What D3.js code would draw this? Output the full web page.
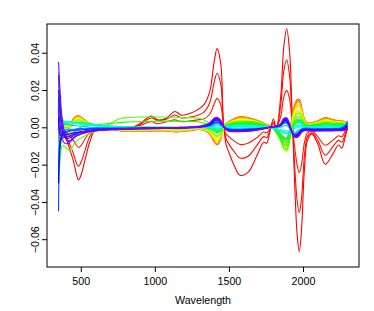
<!DOCTYPE html>
<html>
<head>
<meta charset="utf-8">
<script src="https://cdn.jsdelivr.net/npm/d3@7"></script>
<style>
  body { margin: 0; background: #fff; }
  text { font-family: "Liberation Sans", Arial, sans-serif; font-size: 10.7px; fill: #000; }
</style>
</head>
<body>
<div id="chart"></div>
<script>
// wavelength grid (nm) shared by every spectrum
var wavelength = [
  350, 360, 375, 390, 410, 430, 450, 470, 485, 500,
  530, 560, 600, 650, 700, 760, 800, 850, 900, 975,
  1020, 1080, 1135, 1180, 1240, 1290, 1330, 1370, 1400, 1420,
  1445, 1462, 1480, 1500, 1530, 1575, 1630, 1690, 1735, 1755,
  1775, 1800, 1820, 1850, 1870, 1890, 1910, 1925, 1940, 1960,
  1975, 1990, 2010, 2030, 2060, 2100, 2150, 2200, 2240, 2262,
  2285, 2300
];

// sample number of each drawn spectrum (out of 100, sets the rainbow colour)
var sampleNo = [1, 2, 3, 9, 12, 14, 19, 21, 24, 29, 31, 34, 38, 43, 48, 51, 54,
                60, 63, 66, 72, 78, 81, 84, 89, 91, 94, 97, 99, 100];

var s01 = [
  0, -0.001, -0.002, -0.004, -0.008, -0.013, -0.018, -0.025, -0.0283, -0.026,
  -0.017, -0.008, -0.001, -0.0005, -0.0005, -0.001, -0.002, 0, 0.002, 0.006,
  0.004, 0.005, 0.0085, 0.0065, 0.0075, 0.0095, 0.012, 0.019, 0.035, 0.0422,
  0.034, 0.004, -0.009, -0.0135, -0.0195, -0.0257, -0.024, -0.015, -0.008, -0.0085,
  -0.003, 0.0045, -0.0005, 0.017, 0.043, 0.0528, 0.040, 0.011, -0.022, -0.057,
  -0.0667, -0.055, -0.022, -0.007, -0.0035, -0.009, -0.0198, -0.0145, -0.0095, -0.0112,
  -0.005, -0.001
];
var s02 = [
  0, -0.001, -0.002, -0.003, -0.006, -0.010, -0.014, -0.019, -0.021, -0.019,
  -0.012, -0.005, -0.001, 0, 0, -0.0005, -0.0015, 0, 0.0015, 0.005,
  0.0035, 0.0045, 0.0065, 0.005, 0.0055, 0.0065, 0.008, 0.013, 0.024, 0.029,
  0.023, 0.003, -0.006, -0.009, -0.0125, -0.0165, -0.0155, -0.0095, -0.005, -0.0055,
  -0.002, 0.003, -0.0005, 0.012, 0.030, 0.0362, 0.027, 0.007, -0.015, -0.039,
  -0.0458, -0.038, -0.015, -0.005, -0.003, -0.007, -0.015, -0.0105, -0.007, -0.008,
  -0.0035, -0.0005
];
var s03 = [
  0, -0.001, -0.001, -0.002, -0.003, -0.005, -0.007, -0.0095, -0.0108, -0.010,
  -0.006, -0.003, -0.0005, 0, 0, -0.0005, -0.001, 0, 0.001, 0.003,
  0.002, 0.003, 0.004, 0.003, 0.0035, 0.004, 0.0045, 0.007, 0.0125, 0.0155,
  0.012, 0.0015, -0.0035, -0.005, -0.007, -0.0092, -0.0085, -0.0055, -0.0025, -0.003,
  -0.001, 0.002, 0, 0.006, 0.016, 0.0198, 0.015, 0.004, -0.008, -0.020,
  -0.0244, -0.020, -0.008, -0.003, -0.002, -0.005, -0.0096, -0.007, -0.0045, -0.005,
  -0.002, 0
];
var s09 = [
  0.004, 0.008, 0.004, 0.001, 0, 0.002, 0.0045, 0.006, 0.0063, 0.0055,
  0.0038, 0.0022, 0.001, 0, -0.001, -0.0018, -0.0022, -0.0022, -0.0022, -0.002,
  -0.002, -0.002, -0.0025, -0.0022, -0.0018, -0.0012, -0.0015, -0.0035, -0.0078, -0.0095,
  -0.0065, -0.0005, 0.002, 0.003, 0.0045, 0.0058, 0.0052, 0.0038, 0.0022, 0.0015,
  0.0008, 0, -0.0008, -0.0035, -0.0055, -0.0055, -0.001, 0.005, 0.011, 0.0148,
  0.015, 0.011, 0.0045, 0.0025, 0.0025, 0.0035, 0.0052, 0.0042, 0.0036, 0.0034,
  0.003, 0.002
];
var s12 = [
  0.002, 0.006, 0.0035, 0.001, 0, 0.0018, 0.0042, 0.0058, 0.0062, 0.0054,
  0.0036, 0.0021, 0.001, 0, -0.0009, -0.0017, -0.0021, -0.0021, -0.0021, -0.0019,
  -0.0019, -0.0019, -0.0024, -0.0021, -0.0017, -0.0011, -0.0014, -0.0033, -0.0075, -0.0092,
  -0.0063, -0.0005, 0.0019, 0.0029, 0.0043, 0.0056, 0.005, 0.0037, 0.0021, 0.0015,
  0.0008, 0, -0.0009, -0.0038, -0.006, -0.0062, -0.0015, 0.0045, 0.0102, 0.014,
  0.0142, 0.0105, 0.0042, 0.0022, 0.0024, 0.0033, 0.005, 0.004, 0.0035, 0.0033,
  0.0029, 0.0019
];
var s14 = [
  -0.008, 0.004, 0.003, 0.001, 0, 0.0015, 0.004, 0.0055, 0.006, 0.0052,
  0.0035, 0.002, 0.001, 0, -0.0008, -0.0015, -0.002, -0.002, -0.002, -0.0018,
  -0.0018, -0.0018, -0.0022, -0.002, -0.0015, -0.001, -0.0013, -0.003, -0.007, -0.0088,
  -0.006, -0.0005, 0.0018, 0.0028, 0.004, 0.0052, 0.0048, 0.0035, 0.002, 0.0014,
  0.0007, 0, -0.001, -0.004, -0.0065, -0.0068, -0.002, 0.004, 0.0095, 0.0132,
  0.0135, 0.010, 0.004, 0.002, 0.0022, 0.003, 0.0047, 0.0038, 0.0033, 0.0032,
  0.0028, 0.0018
];
var s19 = [
  -0.018, -0.004, 0.002, 0.001, 0.0005, 0.0015, 0.0035, 0.005, 0.0055, 0.0048,
  0.0033, 0.002, 0.001, 0, -0.0008, -0.0015, -0.0018, -0.0018, -0.0018, -0.0016,
  -0.0016, -0.0016, -0.002, -0.0018, -0.0013, -0.0008, -0.0012, -0.0028, -0.006, -0.0075,
  -0.0052, -0.0005, 0.0016, 0.0025, 0.0036, 0.0046, 0.0043, 0.0032, 0.0018, 0.0012,
  0.0005, -0.0002, -0.0015, -0.005, -0.008, -0.0085, -0.003, 0.003, 0.0085, 0.0118,
  0.012, 0.009, 0.0035, 0.0018, 0.002, 0.0028, 0.0042, 0.0034, 0.003, 0.003,
  0.0026, 0.0016
];
var s21 = [
  0.006, 0.003, 0.0015, 0.001, 0.0008, 0.0015, 0.0032, 0.0048, 0.0052, 0.0046,
  0.0032, 0.002, 0.001, 0.0001, -0.0006, -0.0013, -0.0016, -0.0016, -0.0016, -0.0014,
  -0.0014, -0.0014, -0.0018, -0.0016, -0.0011, -0.0007, -0.0011, -0.0026, -0.0056, -0.007,
  -0.0048, -0.0005, 0.0015, 0.0023, 0.0034, 0.0043, 0.004, 0.003, 0.0017, 0.0011,
  0.0004, -0.0003, -0.0018, -0.0055, -0.0088, -0.0094, -0.0038, 0.0026, 0.008, 0.0112,
  0.0113, 0.0085, 0.0032, 0.0016, 0.0019, 0.0026, 0.0039, 0.0032, 0.0028, 0.0028,
  0.0025, 0.0015
];
var s24 = [
  -0.026, -0.012, 0, 0.001, 0.001, 0.0015, 0.003, 0.0045, 0.005, 0.0045,
  0.0032, 0.002, 0.001, 0.0002, -0.0005, -0.0012, -0.0015, -0.0015, -0.0015, -0.0013,
  -0.0013, -0.0013, -0.0017, -0.0015, -0.001, -0.0006, -0.001, -0.0025, -0.0052, -0.0065,
  -0.0045, -0.0005, 0.0015, 0.0022, 0.0032, 0.004, 0.0038, 0.0028, 0.0016, 0.001,
  0.0004, -0.0004, -0.002, -0.006, -0.0095, -0.0102, -0.0045, 0.0022, 0.0075, 0.0105,
  0.0105, 0.008, 0.003, 0.0015, 0.0018, 0.0025, 0.0037, 0.003, 0.0027, 0.0027,
  0.0024, 0.0014
];
var s29 = [
  0.012, 0.006, 0.002, 0.0005, 0.0005, 0.0012, 0.0028, 0.004, 0.0045, 0.004,
  0.003, 0.002, 0.0012, 0.0005, 0, -0.0008, -0.001, -0.001, -0.001, -0.0008,
  -0.0008, -0.0008, -0.0012, -0.001, -0.0006, -0.0003, -0.0008, -0.002, -0.0045, -0.0055,
  -0.004, -0.0003, 0.0015, 0.002, 0.003, 0.0036, 0.0034, 0.0026, 0.0015, 0.001,
  0.0003, -0.0006, -0.0025, -0.007, -0.011, -0.012, -0.006, 0.0012, 0.006, 0.0088,
  0.009, 0.007, 0.0028, 0.0014, 0.0016, 0.0022, 0.0033, 0.0028, 0.0025, 0.0025,
  0.0022, 0.0012
];
var s31 = [
  -0.022, -0.010, -0.001, 0, 0.0002, 0.001, 0.0024, 0.0036, 0.004, 0.0037,
  0.0028, 0.002, 0.0012, 0.0006, 0.0001, -0.0005, -0.0008, -0.0008, -0.0008, -0.0006,
  -0.0006, -0.0006, -0.001, -0.0008, -0.0005, -0.0002, -0.0007, -0.0018, -0.004, -0.005,
  -0.0035, -0.0002, 0.0015, 0.0019, 0.0028, 0.0033, 0.0032, 0.0024, 0.0014, 0.0009,
  0.0002, -0.0007, -0.0028, -0.0072, -0.0112, -0.0124, -0.0065, 0.0006, 0.0052, 0.0078,
  0.008, 0.0064, 0.0026, 0.0013, 0.0015, 0.0021, 0.003, 0.0026, 0.0024, 0.0024,
  0.0021, 0.0011
];
var s34 = [
  0.030, 0.015, 0.004, 0, -0.001, 0, 0.0018, 0.003, 0.0035, 0.0033,
  0.0027, 0.002, 0.0013, 0.0007, 0.0002, -0.0003, -0.0005, -0.0005, -0.0005, -0.0004,
  -0.0004, -0.0004, -0.0007, -0.0006, -0.0003, 0, -0.0005, -0.0015, -0.0035, -0.0045,
  -0.003, 0, 0.0015, 0.0018, 0.0026, 0.003, 0.003, 0.0023, 0.0014, 0.0009,
  0.0002, -0.0008, -0.003, -0.0075, -0.0115, -0.0128, -0.007, 0, 0.0045, 0.007,
  0.0072, 0.0058, 0.0025, 0.0013, 0.0015, 0.002, 0.0028, 0.0025, 0.0023, 0.0023,
  0.002, 0.001
];
var s38 = [
  -0.030, -0.018, -0.010, -0.010, -0.0118, -0.0122, -0.0095, -0.0075, -0.0065, -0.0058,
  -0.0045, -0.0035, -0.002, 0, 0.0022, 0.0045, 0.0052, 0.0054, 0.0055, 0.0055,
  0.0055, 0.0055, 0.0054, 0.0053, 0.0052, 0.005, 0.004, 0.002, 0, -0.001,
  -0.001, 0, 0.0012, 0.0018, 0.0025, 0.003, 0.0032, 0.0026, 0.0016, 0.001,
  0.0003, -0.0008, -0.0028, -0.007, -0.0105, -0.0115, -0.0065, -0.0005, 0.0035, 0.0055,
  0.0058, 0.0048, 0.0022, 0.0012, 0.0014, 0.0018, 0.0025, 0.0022, 0.002, 0.002,
  0.0018, 0.0008
];
var s43 = [
  0.020, 0.010, 0.003, -0.002, -0.004, -0.0045, -0.003, -0.0015, -0.0005, 0,
  0.0008, 0.0012, 0.0015, 0.0018, 0.002, 0.0025, 0.0028, 0.003, 0.003, 0.0032,
  0.0033, 0.0033, 0.0033, 0.0033, 0.0032, 0.003, 0.0022, 0.0008, -0.001, -0.002,
  -0.0015, 0, 0.001, 0.0015, 0.002, 0.0024, 0.0025, 0.0021, 0.0013, 0.0008,
  0.0002, -0.0008, -0.0025, -0.006, -0.009, -0.0098, -0.0058, -0.001, 0.0025, 0.0042,
  0.0045, 0.0038, 0.0018, 0.001, 0.0012, 0.0015, 0.002, 0.0018, 0.0017, 0.0017,
  0.0015, 0.0006
];
var s48 = [
  -0.012, -0.004, 0.001, 0.002, 0.0022, 0.0025, 0.0025, 0.0025, 0.0025, 0.0024,
  0.0022, 0.0019, 0.0015, 0.001, 0.0006, 0.0003, 0.0002, 0.0001, 0, 0,
  0, 0, -0.0002, -0.0002, 0, 0.0002, 0, -0.0008, -0.002, -0.0028,
  -0.002, 0, 0.001, 0.0013, 0.0018, 0.0021, 0.0021, 0.0017, 0.001, 0.0006,
  0.0001, -0.0007, -0.002, -0.005, -0.0075, -0.008, -0.0045, -0.0008, 0.002, 0.0035,
  0.0037, 0.003, 0.0015, 0.0008, 0.001, 0.0013, 0.0017, 0.0015, 0.0014, 0.0014,
  0.0013, 0.0005
];
var s51 = [
  0.008, 0.004, 0.003, 0.0025, 0.0025, 0.0026, 0.0026, 0.0025, 0.0025, 0.0024,
  0.0021, 0.0018, 0.0014, 0.001, 0.0006, 0.0003, 0.0002, 0.0001, 0, 0,
  0, 0, -0.0001, -0.0001, 0, 0.0001, 0, -0.0006, -0.0016, -0.0022,
  -0.0016, 0, 0.0008, 0.0012, 0.0015, 0.0018, 0.0018, 0.0014, 0.0009, 0.0005,
  0.0001, -0.0006, -0.0017, -0.0042, -0.0063, -0.0068, -0.004, -0.0008, 0.0016, 0.0029,
  0.0031, 0.0025, 0.0012, 0.0007, 0.0008, 0.0011, 0.0014, 0.0013, 0.0012, 0.0012,
  0.0011, 0.0005
];
var s54 = [
  0.024, 0.012, 0.005, 0.003, 0.0028, 0.0028, 0.0027, 0.0026, 0.0025, 0.0024,
  0.0021, 0.0018, 0.0014, 0.001, 0.0007, 0.0004, 0.0003, 0.0002, 0.0001, 0,
  0, 0, -0.0001, -0.0001, 0, 0.0001, 0, -0.0005, -0.0012, -0.0018,
  -0.0013, 0, 0.0007, 0.001, 0.0013, 0.0015, 0.0015, 0.0012, 0.0008, 0.0005,
  0.0001, -0.0005, -0.0014, -0.0035, -0.0052, -0.0056, -0.0034, -0.0008, 0.0012, 0.0023,
  0.0025, 0.002, 0.001, 0.0006, 0.0007, 0.0009, 0.0012, 0.0011, 0.001, 0.001,
  0.0009, 0.0004
];
var s60 = [
  -0.020, -0.006, 0.002, 0.003, 0.0032, 0.003, 0.0028, 0.0026, 0.0024, 0.0022,
  0.0019, 0.0016, 0.0012, 0.0008, 0.0005, 0.0002, 0.0001, 0, 0, -0.0001,
  -0.0001, -0.0001, -0.0002, -0.0002, -0.0001, 0, 0, -0.0002, -0.0006, -0.0008,
  -0.0006, 0, 0.0004, 0.0005, 0.0007, 0.0008, 0.0008, 0.0006, 0.0004, 0.0002,
  0, -0.0004, -0.001, -0.0022, -0.0032, -0.0035, -0.0025, -0.0008, 0.0004, 0.001,
  0.0012, 0.001, 0.0005, 0.0003, 0.0003, 0.0004, 0.0005, 0.0005, 0.0005, 0.0005,
  0.0006, 0.001
];
var s63 = [
  0.012, 0.004, 0.002, 0.0028, 0.003, 0.0028, 0.0025, 0.0023, 0.0021, 0.0019,
  0.0016, 0.0013, 0.001, 0.0006, 0.0003, 0.0001, 0, -0.0001, -0.0001, -0.0002,
  -0.0002, -0.0002, -0.0002, -0.0002, -0.0001, 0, 0, -0.0001, -0.0002, -0.0003,
  -0.0002, 0, 0.0002, 0.0003, 0.0004, 0.0004, 0.0004, 0.0003, 0.0002, 0.0001,
  0, -0.0003, -0.0009, -0.0017, -0.0023, -0.0026, -0.0024, -0.0012, -0.0002, 0.0004,
  0.0006, 0.0005, 0.0003, 0.0002, 0.0001, 0.0002, 0.0003, 0.0003, 0.0003, 0.0004,
  0.0007, 0.0018
];
var s66 = [
  0.018, 0.006, 0.002, 0.0025, 0.0028, 0.0025, 0.0022, 0.002, 0.0018, 0.0016,
  0.0013, 0.001, 0.0007, 0.0004, 0.0002, 0, -0.0001, -0.0002, -0.0002, -0.0003,
  -0.0003, -0.0003, -0.0003, -0.0003, -0.0002, -0.0001, 0, 0.0001, 0.0002, 0.0002,
  0.0001, 0, 0, 0, 0.0001, 0.0001, 0.0001, 0, 0, 0,
  -0.0001, -0.0003, -0.0008, -0.0012, -0.0015, -0.0018, -0.0022, -0.0016, -0.0008, -0.0002,
  0, 0, 0, 0, -0.0001, 0, 0, 0, 0, 0.0002,
  0.0008, 0.0025
];
var s72 = [
  -0.015, -0.004, 0.001, 0.0015, 0.0015, 0.0012, 0.001, 0.0008, 0.0007, 0.0006,
  0.0004, 0.0002, 0, -0.0001, -0.0002, -0.0003, -0.0004, -0.0004, -0.0004, -0.0004,
  -0.0004, -0.0004, -0.0004, -0.0004, -0.0003, -0.0002, 0, 0.0004, 0.001, 0.0012,
  0.0008, 0.0002, -0.0002, -0.0004, -0.0005, -0.0005, -0.0005, -0.0004, -0.0002, -0.0001,
  0, 0, -0.0002, 0, 0.0008, 0.001, -0.0008, -0.0025, -0.0028, -0.002,
  -0.0012, -0.0006, -0.0003, -0.0003, -0.0005, -0.0005, -0.0005, -0.0005, -0.0004, 0,
  0.0012, 0.0035
];
var s78 = [
  0.010, -0.010, -0.004, -0.002, -0.001, -0.001, -0.001, -0.0008, -0.0007, -0.0006,
  -0.0005, -0.0004, -0.0004, -0.0004, -0.0004, -0.0004, -0.0004, -0.0004, -0.0004, -0.0003,
  -0.0003, -0.0003, -0.0003, -0.0002, -0.0001, 0, 0.0003, 0.0008, 0.0018, 0.0022,
  0.0015, 0.0004, -0.0004, -0.0008, -0.001, -0.001, -0.0009, -0.0007, -0.0004, -0.0002,
  0, 0.0002, 0.0002, 0.0008, 0.002, 0.0022, 0, -0.0025, -0.0035, -0.003,
  -0.002, -0.001, -0.0006, -0.0006, -0.0008, -0.0008, -0.0008, -0.0008, -0.0007, -0.0002,
  0.001, 0.003
];
var s81 = [
  0.016, -0.002, -0.003, -0.0025, -0.002, -0.0015, -0.0014, -0.0012, -0.0011, -0.001,
  -0.0009, -0.0007, -0.0007, -0.0006, -0.0006, -0.0005, -0.0005, -0.0005, -0.0004, -0.0004,
  -0.0003, -0.0003, -0.0003, -0.0002, -0.0001, 0, 0.0004, 0.001, 0.0022, 0.0026,
  0.0018, 0.0004, -0.0005, -0.001, -0.0012, -0.0012, -0.001, -0.0008, -0.0004, -0.0002,
  0, 0.0002, 0.0003, 0.001, 0.0024, 0.0026, 0.0003, -0.0025, -0.0038, -0.0034,
  -0.0024, -0.0012, -0.0008, -0.0008, -0.001, -0.001, -0.0009, -0.0009, -0.0008, -0.0004,
  0.0008, 0.0026
];
var s84 = [
  -0.045, -0.012, -0.004, -0.003, -0.0025, -0.002, -0.0018, -0.0016, -0.0015, -0.0014,
  -0.0012, -0.001, -0.0009, -0.0008, -0.0007, -0.0006, -0.0006, -0.0005, -0.0005, -0.0004,
  -0.0004, -0.0003, -0.0003, -0.0002, -0.0001, 0.0001, 0.0005, 0.0012, 0.0026, 0.003,
  0.002, 0.0005, -0.0006, -0.0012, -0.0014, -0.0014, -0.0012, -0.0009, -0.0005, -0.0003,
  0, 0.0003, 0.0004, 0.0012, 0.0028, 0.003, 0.0005, -0.0025, -0.004, -0.0037,
  -0.0027, -0.0015, -0.0009, -0.0009, -0.0011, -0.0011, -0.001, -0.001, -0.0009, -0.0005,
  0.0005, 0.002
];
var s89 = [
  -0.030, -0.008, -0.004, -0.004, -0.0038, -0.0033, -0.003, -0.0027, -0.0025, -0.0023,
  -0.002, -0.0017, -0.0014, -0.0012, -0.001, -0.0009, -0.0008, -0.0007, -0.0006, -0.0005,
  -0.0004, -0.0003, -0.0003, -0.0002, 0, 0.0002, 0.0007, 0.0016, 0.0033, 0.0038,
  0.0026, 0.0006, -0.0008, -0.0015, -0.0017, -0.0017, -0.0015, -0.0011, -0.0006, -0.0003,
  0, 0.0004, 0.0005, 0.0015, 0.0034, 0.0036, 0.0008, -0.0025, -0.0045, -0.0043,
  -0.0032, -0.0018, -0.0012, -0.0012, -0.0014, -0.0014, -0.0013, -0.0013, -0.0012, -0.001,
  -0.0002, 0.0012
];
var s91 = [
  0.005, -0.004, -0.005, -0.0055, -0.005, -0.0044, -0.0038, -0.0032, -0.0029, -0.0026,
  -0.0022, -0.0018, -0.0015, -0.0012, -0.001, -0.0009, -0.0008, -0.0007, -0.0006, -0.0005,
  -0.0004, -0.0003, -0.0003, -0.0002, 0, 0.0002, 0.0008, 0.0018, 0.0038, 0.0043,
  0.0029, 0.0006, -0.0009, -0.0016, -0.0018, -0.0018, -0.0016, -0.0012, -0.0006, -0.0003,
  0, 0.0004, 0.0005, 0.0016, 0.0037, 0.0039, 0.0009, -0.0025, -0.0047, -0.0047,
  -0.0035, -0.002, -0.0013, -0.0013, -0.0015, -0.0015, -0.0014, -0.0014, -0.0013, -0.0012,
  -0.0005, 0.0006
];
var s94 = [
  0.020, 0.008, -0.002, -0.005, -0.006, -0.0055, -0.0045, -0.0037, -0.0032, -0.0028,
  -0.0023, -0.0019, -0.0016, -0.0013, -0.0011, -0.0009, -0.0008, -0.0007, -0.0006, -0.0005,
  -0.0004, -0.0003, -0.0003, -0.0002, 0, 0.0002, 0.0008, 0.002, 0.0042, 0.0047,
  0.0032, 0.0007, -0.001, -0.0018, -0.002, -0.002, -0.0018, -0.0013, -0.0007, -0.0004,
  0, 0.0004, 0.0005, 0.0017, 0.004, 0.0042, 0.001, -0.0025, -0.0048, -0.005,
  -0.0038, -0.0022, -0.0014, -0.0014, -0.0016, -0.0016, -0.0015, -0.0015, -0.0014, -0.0013,
  -0.0008, 0
];
var s97 = [
  0.028, 0.012, 0, -0.004, -0.0075, -0.007, -0.0055, -0.0045, -0.004, -0.0035,
  -0.0028, -0.0022, -0.0018, -0.0015, -0.0013, -0.0011, -0.001, -0.0009, -0.0008, -0.0007,
  -0.0006, -0.0005, -0.0004, -0.0003, -0.0001, 0.0002, 0.0009, 0.0022, 0.0046, 0.0052,
  0.0035, 0.0008, -0.0011, -0.002, -0.0022, -0.0022, -0.002, -0.0014, -0.0008, -0.0004,
  0, 0.0004, 0.0005, 0.0018, 0.0045, 0.0048, 0.0012, -0.0025, -0.005, -0.0052,
  -0.0042, -0.0025, -0.0016, -0.0016, -0.0018, -0.0018, -0.0017, -0.0017, -0.0016, -0.0016,
  -0.0012, -0.0005
];
var s99 = [
  0.010, 0.002, -0.006, -0.0085, -0.0088, -0.0078, -0.006, -0.0048, -0.0042, -0.0037,
  -0.003, -0.0024, -0.002, -0.0016, -0.0014, -0.0012, -0.0011, -0.001, -0.0009, -0.0008,
  -0.0007, -0.0006, -0.0005, -0.0004, -0.0002, 0.0001, 0.0008, 0.0021, 0.0045, 0.0051,
  0.0034, 0.0008, -0.0012, -0.0021, -0.0023, -0.0023, -0.0021, -0.0015, -0.0009, -0.0005,
  -0.0001, 0.0003, 0.0004, 0.0017, 0.0044, 0.0047, 0.0011, -0.0026, -0.0051, -0.0054,
  -0.0044, -0.0027, -0.0018, -0.0018, -0.002, -0.002, -0.0019, -0.0019, -0.0018, -0.0018,
  -0.0014, -0.0008
];
var s100 = [
  0.035, 0.020, 0.004, -0.002, -0.005, -0.0045, -0.0038, -0.0032, -0.0028, -0.0025,
  -0.002, -0.0016, -0.0013, -0.001, -0.0008, -0.0007, -0.0006, -0.0005, -0.0004, -0.0003,
  -0.0002, -0.0001, 0, 0.0001, 0.0002, 0.0005, 0.0011, 0.0024, 0.0048, 0.0053,
  0.0036, 0.0009, -0.001, -0.0018, -0.002, -0.002, -0.0018, -0.0012, -0.0006, -0.0003,
  0.0001, 0.0005, 0.0006, 0.002, 0.0046, 0.005, 0.0015, -0.002, -0.0045, -0.005,
  -0.004, -0.0024, -0.0015, -0.0015, -0.0017, -0.0016, -0.0015, -0.0015, -0.0014, -0.0014,
  -0.001, -0.0003
];

var spectra = [s01, s02, s03, s09, s12, s14, s19, s21, s24, s29, s31, s34, s38, s43, s48, s51, s54,
               s60, s63, s66, s72, s78, s81, s84, s89, s91, s94, s97, s99, s100];

var xTicks = [500, 1000, 1500, 2000];
var yTicks = [-0.06, -0.04, -0.02, 0, 0.02, 0.04];

// plot size
var width = 374;
var height = 311;
var plotLeft = 47, plotRight = 359, plotTop = 24, plotBottom = 267;

var svg = d3.select("#chart").append("svg")
    .attr("width", width)
    .attr("height", height);

var x = d3.scaleLinear().domain([272, 2378]).range([plotLeft, plotRight]);
var y = d3.scaleLinear().domain([-0.0749, 0.0554]).range([plotBottom, plotTop]);

// rainbow colours like R's rainbow(), red through purple
var hue = d3.scaleLinear().domain([1, 100]).range([0, 270]);

var line = d3.line()
    .x(function(d, i) { return x(wavelength[i]); })
    .y(function(d) { return y(d); })
    .curve(d3.curveCatmullRom.alpha(0.5));

svg.append("g")
  .selectAll("path")
  .data(spectra)
  .enter().append("path")
    .attr("d", line)
    .attr("fill", "none")
    .attr("stroke", function(d, i) { return d3.hsl(hue(sampleNo[i]), 1, 0.5); })
    .attr("stroke-width", 1.1);

// box
svg.append("rect")
    .attr("x", plotLeft)
    .attr("y", plotTop)
    .attr("width", plotRight - plotLeft)
    .attr("height", plotBottom - plotTop)
    .attr("fill", "none")
    .attr("stroke", "#000")
    .attr("stroke-width", 1);

// x axis
var xAxis = svg.append("g")
    .attr("transform", "translate(0," + plotBottom + ")")
    .call(d3.axisBottom(x).tickValues(xTicks).tickSize(5).tickPadding(5).tickFormat(d3.format("d")));
xAxis.select(".domain").remove();
xAxis.selectAll("text").attr("font-size", null).attr("font-family", null);

// y axis, labels turned like R's default
var yAxis = svg.append("g")
    .attr("transform", "translate(" + plotLeft + ",0)")
    .call(d3.axisLeft(y).tickValues(yTicks).tickSize(5).tickFormat(d3.format(".2f")));
yAxis.select(".domain").remove();
yAxis.selectAll("text")
    .attr("font-size", null).attr("font-family", null)
    .attr("x", null).attr("dy", null)
    .attr("text-anchor", "middle")
    .attr("transform", "translate(-8,0) rotate(-90)");

svg.append("text")
    .attr("x", (plotLeft + plotRight) / 2)
    .attr("y", 304)
    .attr("text-anchor", "middle")
    .text("Wavelength");
</script>
</body>
</html>
